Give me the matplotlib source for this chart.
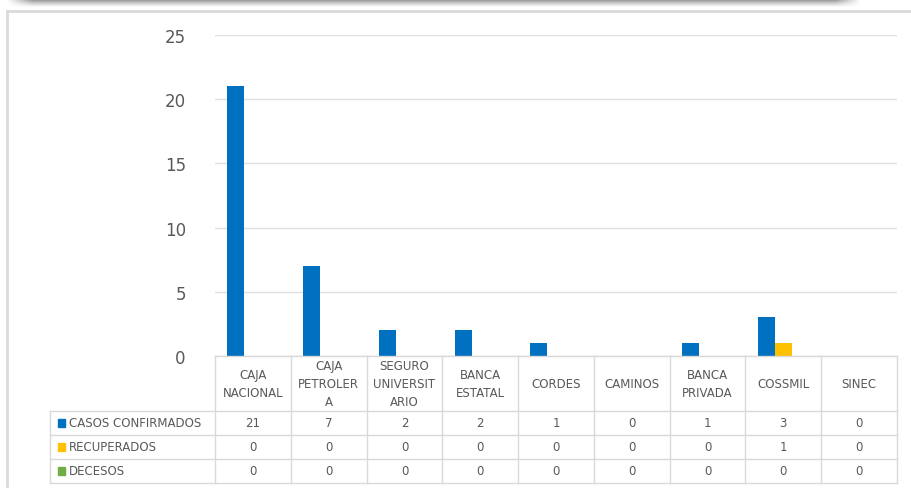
import numpy as np
import matplotlib.pyplot as plt
from matplotlib.patches import Rectangle

categorias = ['CAJA\nNACIONAL', 'CAJA\nPETROLER\nA', 'SEGURO\nUNIVERSIT\nARIO',
              'BANCA\nESTATAL', 'CORDES', 'CAMINOS', 'BANCA\nPRIVADA',
              'COSSMIL', 'SINEC']
confirmados = [21, 7, 2, 2, 1, 0, 1, 3, 0]
recuperados = [0, 0, 0, 0, 0, 0, 0, 1, 0]
decesos = [0, 0, 0, 0, 0, 0, 0, 0, 0]

series = ['CASOS CONFIRMADOS', 'RECUPERADOS', 'DECESOS']
colores = ['#0070C0', '#FFC000', '#70AD47']
gris = '#595959'
linea = '#d9d9d9'

W, H = 911, 489
fig = plt.figure(figsize=(W / 100, H / 100), dpi=100)

# marco exterior y sombra superior
fig.patches.append(Rectangle((7 / W, -0.1), 1.2, 1 - 12 / H + 0.1,
                             transform=fig.transFigure, fill=False,
                             edgecolor=linea, lw=2))
sh = fig.add_axes([6 / W, 1 - 9 / H, 856 / W, 9 / H])
yy = np.linspace(0, 1, 9)[:, None]
xx = np.linspace(0, 1, 300)[None, :]
fade = np.clip(np.minimum(xx, 1 - xx) / 0.03, 0, 1)
sh.imshow(1 - 0.45 * (1 - yy) ** 1.3 * fade, cmap='gray', vmin=0, vmax=1,
          aspect='auto', interpolation='bilinear')
sh.axis('off')

# grafico de barras
ax = fig.add_axes([215 / W, 132 / H, 682 / W, 321 / H])
x = np.arange(len(categorias))
w = 0.225
for k, (vals, c) in enumerate(zip([confirmados, recuperados, decesos], colores)):
    ax.bar(x + (k - 1) * w, vals, width=w, color=c, zorder=3)
ax.set_xlim(-0.5, len(categorias) - 0.5)
ax.set_ylim(0, 25)
ax.set_yticks([0, 5, 10, 15, 20, 25])
ax.yaxis.grid(True, color='#e0e0e0', lw=1)
ax.set_axisbelow(True)
ax.tick_params(axis='y', length=0, pad=21, labelsize=12, labelcolor=gris)
ax.set_xticks([])
for s in ax.spines.values():
    s.set_visible(False)

# tabla de datos
tab = fig.add_axes([50 / W, 5 / H, 847 / W, 127 / H])
hdr = 165 / (682 / len(categorias))
tab.set_xlim(-0.5 - hdr, len(categorias) - 0.5)
head = 55 / 24
tab.set_ylim(head + 3, 0)
tab.axis('off')
kw = dict(color=linea, lw=1, clip_on=False)
for xv in np.arange(len(categorias) + 1) - 0.5:
    tab.plot([xv, xv], [0, head + 3], **kw)
tab.plot([-0.5 - hdr, -0.5 - hdr], [head, head + 3], **kw)
tab.plot([-0.5, len(categorias) - 0.5], [0, 0], **kw)
for r in range(4):
    tab.plot([-0.5 - hdr, len(categorias) - 0.5], [head + r, head + r], **kw)

for i, cat in enumerate(categorias):
    tab.text(i, head / 2, cat, ha='center', va='center', fontsize=8.5,
             color=gris, linespacing=1.5)

for r, (nombre, vals, c) in enumerate(zip(series, [confirmados, recuperados, decesos], colores)):
    yc = head + r + 0.5
    tab.add_patch(Rectangle((-0.5 - hdr + 0.1, yc - 0.17), 0.1, 0.34,
                            color=c, clip_on=False))
    tab.text(-0.5 - hdr + 0.25, yc, nombre, ha='left', va='center',
             fontsize=8.5, color=gris)
    for i, v in enumerate(vals):
        tab.text(i, yc, str(v), ha='center', va='center', fontsize=8.5, color=gris)

fig.savefig('out.png', dpi=100)
